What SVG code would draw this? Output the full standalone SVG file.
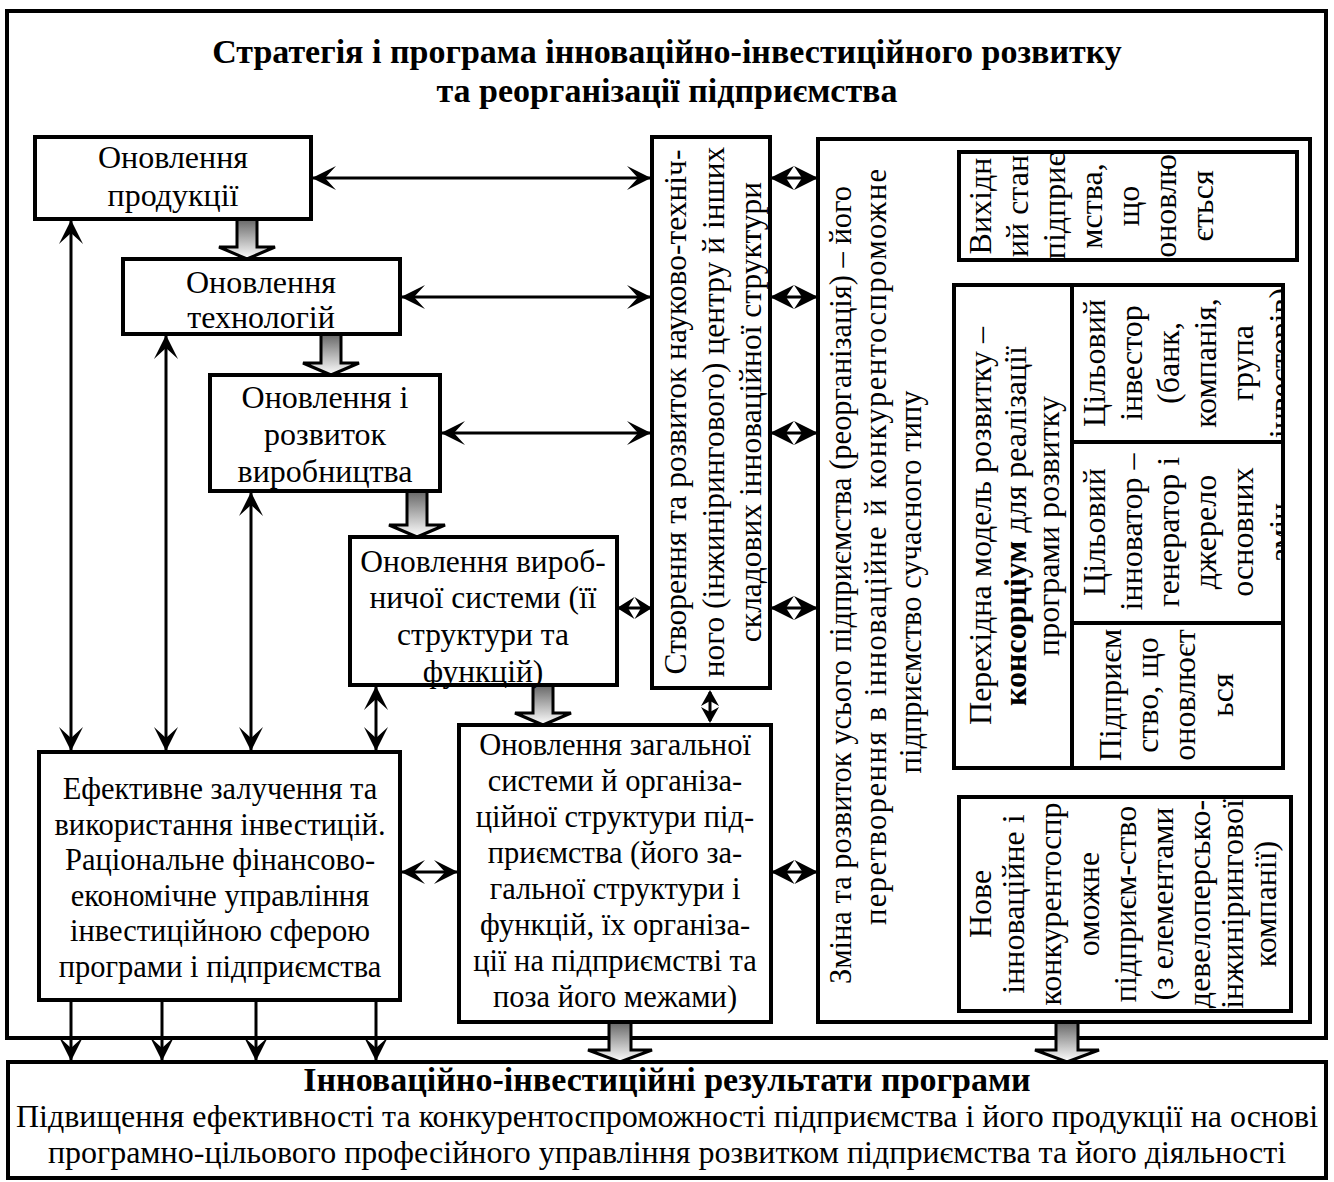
<svg xmlns="http://www.w3.org/2000/svg" width="1334" height="1182" viewBox="0 0 1334 1182">
<style>
.t{font-family:"Liberation Serif","Times New Roman",serif;font-size:30.5px;text-anchor:middle;fill:#000}
.b{font-weight:bold}
.f32{font-size:32px}
.f31{font-size:31.5px}
.ttl{font-size:34px;font-weight:bold}
.res{font-size:34px;font-weight:bold}
.box{fill:#fff;stroke:#000;stroke-width:4}
.ln{fill:none;stroke:#000;stroke-width:3}
.dv{fill:none;stroke:#000;stroke-width:4}
.blk{fill:url(#gr);stroke:#000;stroke-width:3;stroke-linejoin:miter}
.hd{fill:#000;stroke:none}
</style>
<defs>
<linearGradient id="gr" x1="0" y1="0" x2="0" y2="1">
<stop offset="0" stop-color="#666"/>
<stop offset="1" stop-color="#fff"/>
</linearGradient>
<marker id="ah" markerUnits="userSpaceOnUse" markerWidth="30" markerHeight="30" viewBox="-26 -15 30 30" refX="0" refY="0" orient="auto-start-reverse" overflow="visible">
<path d="M1,0 L-23,-12 L-12,0 L-23,12 Z" fill="#000"/>
</marker>
<clipPath id="c1"><rect x="1072" y="285" width="211" height="157"/></clipPath>
<clipPath id="c2"><rect x="1072" y="442" width="211" height="181"/></clipPath>
</defs>

<rect x="0" y="0" width="1334" height="1182" fill="#fff"/>

<g id="frame">
<rect x="7" y="11" width="1319" height="1027" class="box"/>
<text class="t ttl" x="667" y="63">Стратегія і програма інноваційно-інвестиційного розвитку</text>
<text class="t ttl" x="667" y="102">та реорганізації підприємства</text>
</g>

<g id="connectors">
<line class="ln" x1="313" y1="178" x2="650" y2="178" marker-start="url(#ah)" marker-end="url(#ah)"/>
<line class="ln" x1="402" y1="297" x2="650" y2="297" marker-start="url(#ah)" marker-end="url(#ah)"/>
<line class="ln" x1="442" y1="433" x2="650" y2="433" marker-start="url(#ah)" marker-end="url(#ah)"/>
<line class="ln" x1="71" y1="221" x2="71" y2="750" marker-start="url(#ah)" marker-end="url(#ah)"/>
<line class="ln" x1="166" y1="336" x2="166" y2="750" marker-start="url(#ah)" marker-end="url(#ah)"/>
<line class="ln" x1="251" y1="493" x2="251" y2="750" marker-start="url(#ah)" marker-end="url(#ah)"/>
<line class="ln" x1="376" y1="687" x2="376" y2="750" marker-start="url(#ah)" marker-end="url(#ah)"/>
<line class="ln" x1="710" y1="692" x2="710" y2="721"/>
<path class="hd" d="M710,690 L719,706 L710,701 L701,706 Z M710,723 L719,707 L710,712 L701,707 Z"/>
<line class="ln" x1="402" y1="872" x2="457" y2="872" marker-start="url(#ah)" marker-end="url(#ah)"/>
<line class="ln" x1="71" y1="1002" x2="71" y2="1060" marker-end="url(#ah)"/>
<line class="ln" x1="162" y1="1002" x2="162" y2="1060" marker-end="url(#ah)"/>
<line class="ln" x1="256" y1="1002" x2="256" y2="1060" marker-end="url(#ah)"/>
<line class="ln" x1="376" y1="1002" x2="376" y2="1060" marker-end="url(#ah)"/>
<g>
<line class="ln" x1="770" y1="178" x2="818" y2="178"/>
<path class="hd" d="M770,178 L794,166 L786,178 L794,190 Z M818,178 L794,166 L802,178 L794,190 Z"/>
<line class="ln" x1="770" y1="297" x2="818" y2="297"/>
<path class="hd" d="M770,297 L794,285 L786,297 L794,309 Z M818,297 L794,285 L802,297 L794,309 Z"/>
<line class="ln" x1="770" y1="433" x2="818" y2="433"/>
<path class="hd" d="M770,433 L794,421 L786,433 L794,445 Z M818,433 L794,421 L802,433 L794,445 Z"/>
<line class="ln" x1="770" y1="608" x2="818" y2="608"/>
<path class="hd" d="M770,608 L794,596 L786,608 L794,620 Z M818,608 L794,596 L802,608 L794,620 Z"/>
<line class="ln" x1="771" y1="872" x2="818" y2="872"/>
<path class="hd" d="M771,872 L794.5,860 L786.5,872 L794.5,884 Z M818,872 L794.5,860 L802.5,872 L794.5,884 Z"/>
<line class="ln" x1="617" y1="608" x2="652" y2="608"/>
<path class="hd" d="M617,608 L634.5,597 L628,608 L634.5,619 Z M652,608 L634.5,597 L641,608 L634.5,619 Z"/>
</g>
<path class="blk" d="M237,219 L257,219 L257,247 L275,247 L247,259 L219,247 L237,247 Z"/>
<path class="blk" d="M321,334 L341,334 L341,363 L359,363 L331,375 L303,363 L321,363 Z"/>
<path class="blk" d="M407,491 L427,491 L427,525 L445,525 L417,537 L389,525 L407,525 Z"/>
<path class="blk" d="M533,685 L553,685 L553,713 L571,713 L543,725 L515,713 L533,713 Z"/>
<path class="blk" d="M1165,260 L1183,260 L1183,276 L1202,276 L1174,285 L1146,276 L1165,276 Z"/>
<path class="blk" d="M1164,768 L1182,768 L1182,787 L1201,787 L1173,797 L1145,787 L1164,787 Z"/>
<path class="blk" d="M609,1022 L631,1022 L631,1050 L652,1050 L620,1062 L588,1050 L609,1050 Z"/>
<path class="blk" d="M1056,1022 L1078,1022 L1078,1050 L1099,1050 L1067,1062 L1035,1050 L1056,1050 Z"/>
</g>

<g id="n-product">
<rect x="35" y="137" width="276" height="82" class="box"/>
<text class="t f32" x="173" y="168">Оновлення</text>
<text class="t f32" x="173" y="206">продукції</text>
</g>

<g id="n-tech">
<rect x="123" y="259" width="277" height="75" class="box"/>
<text class="t f32" x="261" y="293">Оновлення</text>
<text class="t f32" x="261" y="328">технологій</text>
</g>

<g id="n-prod-dev">
<rect x="210" y="375" width="230" height="116" class="box"/>
<text class="t f32" x="325" y="408">Оновлення і</text>
<text class="t f32" x="325" y="445">розвиток</text>
<text class="t f32" x="325" y="482">виробництва</text>
</g>

<g id="n-prodsys">
<rect x="350" y="537" width="267" height="148" class="box"/>
<text class="t f31" x="483" y="572">Оновлення вироб-</text>
<text class="t f31" x="483" y="608">ничої системи (її</text>
<text class="t f31" x="483" y="645">структури та</text>
<text class="t f31" x="483" y="682">функцій)</text>
</g>

<g id="n-center">
<rect x="652" y="137" width="118" height="551" class="box"/>
<text class="t f31" transform="translate(686,412) rotate(-90)">Створення та розвиток науково-техніч-</text>
<text class="t f31" transform="translate(724,412) rotate(-90)">ного (інжинірингового) центру й інших</text>
<text class="t f31" transform="translate(761,412) rotate(-90)">складових інноваційної структури</text>
</g>

<g id="n-invest">
<rect x="39" y="752" width="361" height="248" class="box"/>
<text class="t" x="220" y="799">Ефективне залучення та</text>
<text class="t" x="220" y="835">використання інвестицій.</text>
<text class="t" x="220" y="870">Раціональне фінансово-</text>
<text class="t" x="220" y="906">економічне управління</text>
<text class="t" x="220" y="941">інвестиційною сферою</text>
<text class="t" x="220" y="977">програми і підприємства</text>
</g>

<g id="n-org">
<rect x="459" y="725" width="312" height="297" class="box"/>
<text class="t" x="615" y="755">Оновлення загальної</text>
<text class="t" x="615" y="791">системи й організа-</text>
<text class="t" x="615" y="827">ційної структури під-</text>
<text class="t" x="615" y="863">приємства (його за-</text>
<text class="t" x="615" y="899">гальної структури і</text>
<text class="t" x="615" y="935">функцій, їх організа-</text>
<text class="t" x="615" y="971">ції на підприємстві та</text>
<text class="t" x="615" y="1007">поза його межами)</text>
</g>

<g id="n-change">
<rect x="818" y="139" width="492" height="883" class="box"/>
<text class="t" transform="translate(851,585) rotate(-90)" textLength="798" lengthAdjust="spacing">Зміна та розвиток усього підприємства (реорганізація) – його</text>
<text class="t" transform="translate(886,547) rotate(-90)" textLength="756" lengthAdjust="spacing">перетворення в інноваційне  й  конкурентоспроможне</text>
<text class="t" transform="translate(921,582) rotate(-90)">підприємство сучасного типу</text>
</g>

<g id="n-initial">
<rect x="959" y="152" width="338" height="108" class="box"/>
<text class="t f32" transform="translate(991,206) rotate(-90)">Вихідн</text>
<text class="t f32" transform="translate(1028,206) rotate(-90)">ий стан</text>
<text class="t f32" transform="translate(1065,206) rotate(-90)">підприє</text>
<text class="t f32" transform="translate(1102,206) rotate(-90)">мства,</text>
<text class="t f32" transform="translate(1139,206) rotate(-90)">що</text>
<text class="t f32" transform="translate(1176,206) rotate(-90)">оновлю</text>
<text class="t f32" transform="translate(1213,206) rotate(-90)">ється</text>
</g>

<g id="n-consortium">
<rect x="954" y="285" width="329" height="483" class="box"/>
<line class="dv" x1="1072" y1="285" x2="1072" y2="768"/>
<line class="dv" x1="1072" y1="442" x2="1283" y2="442"/>
<line class="dv" x1="1072" y1="623" x2="1283" y2="623"/>
<text class="t f32" transform="translate(991,526) rotate(-90)">Перехідна модель розвитку –</text>
<text class="t f32" transform="translate(1026,526) rotate(-90)"><tspan class="b">консорціум</tspan> для реалізації</text>
<text class="t f32" transform="translate(1059,526) rotate(-90)">програми розвитку</text>
</g>

<g id="n-investor" clip-path="url(#c1)">
<text class="t f32" transform="translate(1105,363) rotate(-90)">Цільовий</text>
<text class="t f32" transform="translate(1142,363) rotate(-90)">інвестор</text>
<text class="t f32" transform="translate(1179,363) rotate(-90)">(банк,</text>
<text class="t f32" transform="translate(1216,363) rotate(-90)">компанія,</text>
<text class="t f32" transform="translate(1253,363) rotate(-90)">група</text>
<text class="t f32" transform="translate(1291,363) rotate(-90)">інвесторів)</text>
</g>

<g id="n-innovator" clip-path="url(#c2)">
<text class="t f32" transform="translate(1105,532) rotate(-90)">Цільовий</text>
<text class="t f32" transform="translate(1142,532) rotate(-90)">інноватор –</text>
<text class="t f32" transform="translate(1179,532) rotate(-90)">генератор і</text>
<text class="t f32" transform="translate(1216,532) rotate(-90)">джерело</text>
<text class="t f32" transform="translate(1253,532) rotate(-90)">основних</text>
<text class="t f32" transform="translate(1291,532) rotate(-90)">змін</text>
</g>

<g id="n-enterprise">
<text class="t f32" transform="translate(1121,695) rotate(-90)">Підприєм</text>
<text class="t f32" transform="translate(1158,695) rotate(-90)">ство, що</text>
<text class="t f32" transform="translate(1195,695) rotate(-90)">оновлюєт</text>
<text class="t f32" transform="translate(1233,695) rotate(-90)">ься</text>
</g>

<g id="n-new">
<rect x="959" y="797" width="332" height="214" class="box"/>
<text class="t f32" transform="translate(991,904) rotate(-90)">Нове</text>
<text class="t f32" transform="translate(1024,904) rotate(-90)">інноваційне і</text>
<text class="t f32" transform="translate(1061,904) rotate(-90)">конкурентоспр</text>
<text class="t f32" transform="translate(1099,904) rotate(-90)">оможне</text>
<text class="t f32" transform="translate(1136,904) rotate(-90)">підприєм-ство</text>
<text class="t f32" transform="translate(1173,904) rotate(-90)">(з елементами</text>
<text class="t f32" transform="translate(1210,904) rotate(-90)">девелоперсько-</text>
<text class="t f32" transform="translate(1243,904) rotate(-90)">інжинірингової</text>
<text class="t f32" transform="translate(1276,904) rotate(-90)">компанії)</text>
</g>

<g id="n-results">
<rect x="8" y="1062" width="1318" height="116" class="box"/>
<text class="t res" x="667" y="1091">Інноваційно-інвестиційні результати програми</text>
<text class="t f32" x="667" y="1127">Підвищення ефективності та конкурентоспроможності підприємства і його продукції на основі</text>
<text class="t f32" x="667" y="1163">програмно-цільового професійного управління розвитком підприємства та його діяльності</text>
</g>
</svg>
